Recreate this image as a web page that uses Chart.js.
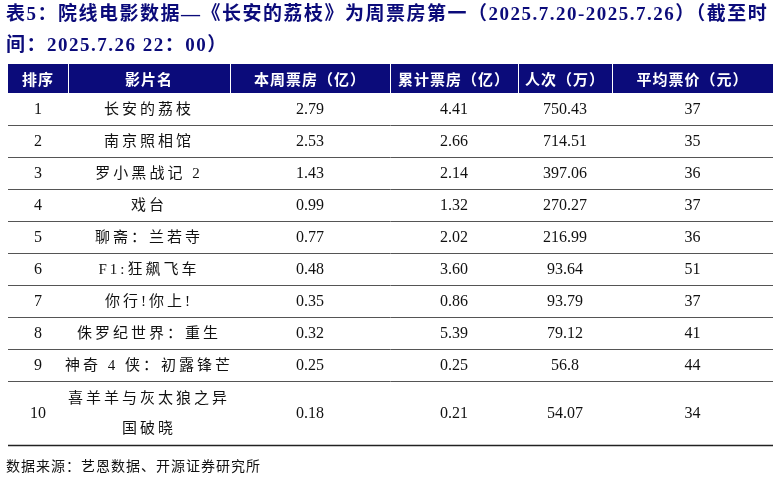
<!DOCTYPE html>
<html><head><meta charset="utf-8">
<script src="https://cdn.jsdelivr.net/npm/chart.js@4"></script>
<style>html,body{margin:0;padding:0;background:#fff}#c{display:block}</style>
</head><body>
<div style="width:779px;height:477px"><canvas id="c" width="779" height="477"></canvas></div>
<script>
const titleLines = ["表5：院线电影数据—《长安的荔枝》为周票房第一（2025.7.20-2025.7.26）（截至时","间：2025.7.26 22：00）"];
const headers = ["排序","影片名","本周票房（亿）","累计票房（亿）","人次（万）","平均票价（元）"];
const ranks = ["1","2","3","4","5","6","7","8","9","10"];
const films = ["长安的荔枝","南京照相馆","罗小黑战记 2","戏台","聊斋：兰若寺","F1:狂飙飞车","你行!你上!","侏罗纪世界：重生","神奇 4 侠：初露锋芒","喜羊羊与灰太狼之异\n国破晓"];
const weekly = ["2.79","2.53","1.43","0.99","0.77","0.48","0.35","0.32","0.25","0.18"];
const total = ["4.41","2.66","2.14","1.32","2.02","3.60","0.86","5.39","0.25","0.21"];
const viewers = ["750.43","714.51","397.06","270.27","216.99","93.64","93.79","79.12","56.8","54.07"];
const price = ["37","35","36","37","36","51","37","41","44","34"];
const source = "数据来源：艺恩数据、开源证券研究所";

const colEdges = [8,68,230,390,518,612,773];
const headerTop = 64, headerBot = 93, rowH = 32;
const rowSpan = [1,1,1,1,1,1,1,1,1,2];
const NAVY = "#0B0B7A";
const CJK = '"Noto Sans CJK SC"';
const NUM = '"Liberation Serif"';

const tablePlugin = {
  id:'table',
  afterDraw(chart){
    const ctx = chart.ctx, xs = chart.scales.x, ys = chart.scales.y;
    const X = v=>xs.getPixelForValue(v), Y = v=>ys.getPixelForValue(v);
    ctx.save();
    ctx.textBaseline='middle';
    ctx.fillStyle = NAVY; ctx.textAlign='left';
    ctx.font = 'bold 19px '+NUM+','+CJK;
    ctx.letterSpacing='1.5px';
    ctx.fillText(titleLines[0], X(6), Y(15));
    ctx.fillText(titleLines[1], X(6), Y(46));
    ctx.letterSpacing='0px';
    ctx.fillStyle = NAVY;
    ctx.fillRect(X(colEdges[0]), Y(headerTop), X(colEdges[6])-X(colEdges[0]), Y(headerBot)-Y(headerTop));
    ctx.strokeStyle='#fff'; ctx.lineWidth=1;
    for(let i=1;i<6;i++){ctx.beginPath();ctx.moveTo(X(colEdges[i])+0.5,Y(headerTop));ctx.lineTo(X(colEdges[i])+0.5,Y(headerBot));ctx.stroke();}
    ctx.fillStyle='#fff'; ctx.textAlign='center';
    ctx.font='bold 15px '+CJK;
    ctx.letterSpacing='1px';
    headers.forEach((h,i)=>ctx.fillText(h,(X(colEdges[i])+X(colEdges[i+1]))/2,Y((headerTop+headerBot)/2)+1));
    let top = headerBot;
    const cols=[ranks,films,weekly,total,viewers,price];
    for(let r=0;r<ranks.length;r++){
      const h=rowH*rowSpan[r], bot=top+h, mid=(top+bot)/2;
      ctx.fillStyle='#111';
      cols.forEach((arr,i)=>{
        const cx=(X(colEdges[i])+X(colEdges[i+1]))/2;
        const lines=arr[r].split('\n');
        ctx.font = (i===1? '15px '+NUM+','+CJK : '16px '+NUM);
        ctx.letterSpacing = i===1 ? '3px' : '0px';
        lines.forEach((ln,k)=>ctx.fillText(ln,cx,Y(mid+(k-(lines.length-1)/2)*30)+1));
      });
      ctx.strokeStyle= r===ranks.length-1 ? '#222' : '#555';
      ctx.lineWidth= r===ranks.length-1 ? 1.5 : 1;
      ctx.beginPath();ctx.moveTo(X(colEdges[0]),Y(bot)+0.5);ctx.lineTo(X(colEdges[6]),Y(bot)+0.5);ctx.stroke();
      top=bot;
    }
    ctx.fillStyle='#111'; ctx.textAlign='left'; ctx.font='14px '+CJK;
    ctx.letterSpacing='1px';
    ctx.fillText(source, X(6), Y(466));
    ctx.restore();
  }
};

new Chart(document.getElementById('c'),{
  type:'scatter',
  data:{datasets:[{data:[],pointRadius:0}]},
  options:{
    responsive:false,animation:false,
    layout:{padding:0},
    plugins:{legend:{display:false},tooltip:{enabled:false}},
    scales:{
      x:{type:'linear',min:0,max:779,display:false},
      y:{type:'linear',min:0,max:477,reverse:true,display:false}
    }
  },
  plugins:[tablePlugin]
});
</script>
</body></html>
